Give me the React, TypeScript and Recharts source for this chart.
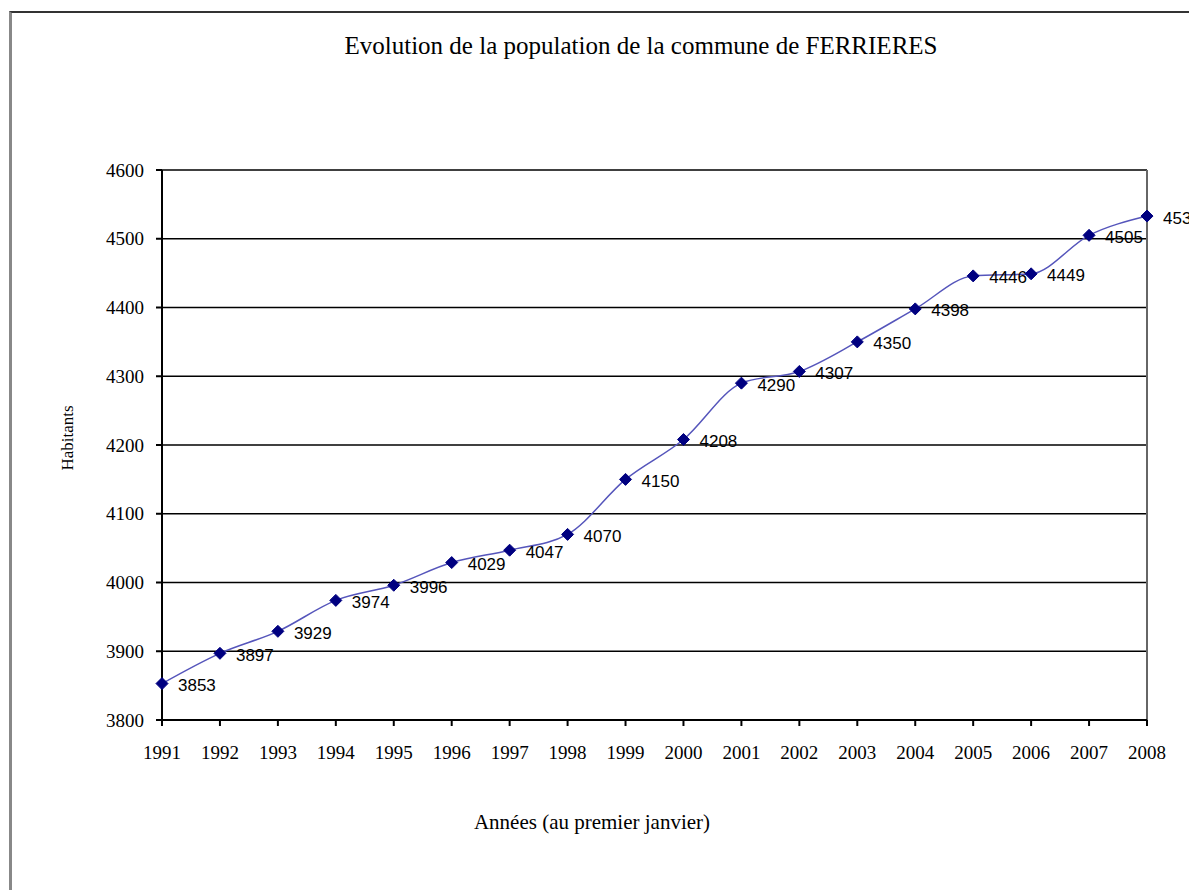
import React from 'react';
import {
  LineChart,
  Line,
  XAxis,
  YAxis,
  CartesianGrid,
  ReferenceLine,
  LabelList,
} from 'recharts';

// années au premier janvier
const YEARS = [
  1991, 1992, 1993, 1994, 1995, 1996, 1997, 1998, 1999, 2000, 2001, 2002, 2003,
  2004, 2005, 2006, 2007, 2008,
];
// habitants
const HABITANTS = [
  3853, 3897, 3929, 3974, 3996, 4029, 4047, 4070, 4150, 4208, 4290, 4307, 4350,
  4398, 4446, 4449, 4505, 4533,
];
const Y_TICKS = [3800, 3900, 4000, 4100, 4200, 4300, 4400, 4500, 4600];

const data = YEARS.map((year, i) => ({ year, value: HABITANTS[i] }));

const SERIF = '"Liberation Serif", "Times New Roman", serif';
const SANS = '"Liberation Sans", Arial, sans-serif';

/** losange bleu marine */
const Diamond = (props: any) => {
  const { cx, cy } = props;
  if (cx == null || cy == null) return null;
  const r = 6;
  return (
    <polygon
      points={`${cx},${cy - r} ${cx + r},${cy} ${cx},${cy + r} ${cx - r},${cy}`}
      fill="#000080"
      stroke="#000080"
    />
  );
};

const ValueLabel = (props: any) => {
  const { x, y, value } = props;
  return (
    <text
      x={x + 16}
      y={y + 2}
      fontFamily={SANS}
      fontSize={17}
      fill="#000"
      dominantBaseline="central"
    >
      {value}
    </text>
  );
};

export default function App() {
  return (
    <div
      style={{
        position: 'absolute',
        left: 0,
        top: 0,
        width: 1189,
        height: 890,
        background: '#fff',
        overflow: 'hidden',
      }}
    >
      {/* cadre de la zone graphique */}
      <div
        style={{
          position: 'absolute',
          left: 9,
          top: 11,
          width: 1300,
          height: 1000,
          borderLeft: '3px solid #888',
          borderTop: '2px solid #333',
        }}
      />
      <div
        style={{
          position: 'absolute',
          left: 0,
          top: 32,
          width: 1282,
          textAlign: 'center',
          fontFamily: SERIF,
          fontSize: 25,
          color: '#000',
        }}
      >
        Evolution de la population de la commune de FERRIERES
      </div>
      <div
        style={{
          position: 'absolute',
          left: 68,
          top: 438,
          transform: 'translate(-50%, -50%) rotate(-90deg)',
          fontFamily: SERIF,
          fontSize: 17,
          whiteSpace: 'nowrap',
        }}
      >
        Habitants
      </div>
      <div
        style={{
          position: 'absolute',
          left: 592,
          top: 822,
          transform: 'translate(-50%, -50%)',
          fontFamily: SERIF,
          fontSize: 21,
          whiteSpace: 'nowrap',
        }}
      >
        Années (au premier janvier)
      </div>

      <div style={{ position: 'absolute', left: 0, top: 0 }}>
        <LineChart
          width={1189}
          height={890}
          data={data}
          margin={{ top: 170, right: 42, bottom: 130, left: 102 }}
        >
          <CartesianGrid
            horizontal
            vertical={false}
            stroke="#000"
            strokeWidth={1.5}
          />
          <ReferenceLine x={2008} stroke="#666" strokeWidth={2} />
          <XAxis
            dataKey="year"
            type="category"
            height={40}
            stroke="#000"
            strokeWidth={2}
            tickSize={6}
            tickMargin={20}
            tick={{ fontFamily: SERIF, fontSize: 19, fill: '#000' }}
            interval={0}
          />
          <YAxis
            width={60}
            domain={[3800, 4600]}
            ticks={Y_TICKS}
            stroke="#000"
            strokeWidth={2}
            tickSize={6}
            tickMargin={12}
            tick={{ fontFamily: SERIF, fontSize: 19, fill: '#000' }}
          />
          <Line
            type="monotone"
            dataKey="value"
            stroke="#5555bb"
            strokeWidth={1.5}
            dot={<Diamond />}
            activeDot={false}
            isAnimationActive={false}
          >
            <LabelList dataKey="value" content={<ValueLabel />} />
          </Line>
        </LineChart>
      </div>
    </div>
  );
}
